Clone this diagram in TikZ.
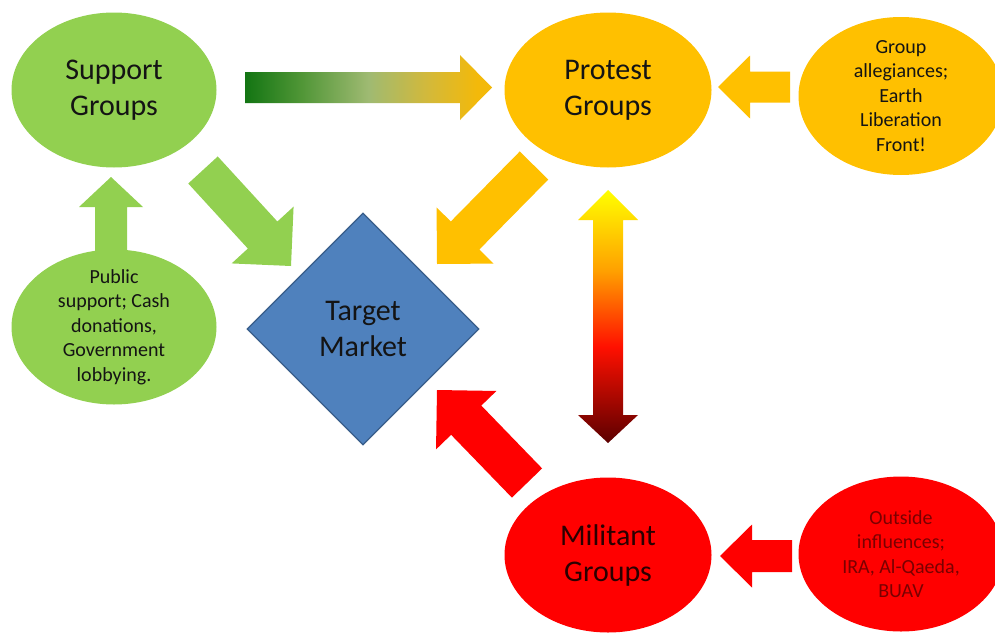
\documentclass[tikz,border=0pt]{standalone}
\usepackage{fontspec}
\setmainfont{Carlito}
\usetikzlibrary{calc,shapes.geometric}

\definecolor{grpgreen}{HTML}{92D050}
\definecolor{grpgold}{HTML}{FFC000}
\definecolor{grpred}{HTML}{FF0000}
\definecolor{mktblue}{HTML}{4F81BD}
\definecolor{mktedge}{HTML}{385D8A}
\definecolor{inkdark}{HTML}{141414}
\definecolor{inkred}{HTML}{7A0000}
\definecolor{inkmil}{HTML}{2A0000}
\definecolor{fadegreen}{HTML}{137513}
\definecolor{fadegreenb}{HTML}{4E9535}
\definecolor{fademid}{HTML}{9FBA72}
\definecolor{fadegoldb}{HTML}{D3B93A}
\definecolor{fadegold}{HTML}{F3B90A}
\definecolor{heatdark}{HTML}{5C0000}
\definecolor{heatred}{HTML}{FF1000}
\definecolor{heatorange}{HTML}{FFA000}
\definecolor{heatyellow}{HTML}{FFFF00}

% dark green (left) through pale green to gold (right)
\pgfdeclarehorizontalshading{greengold}{100bp}{%
  color(0bp)=(fadegreen); color(25bp)=(fadegreen); color(36bp)=(fadegreenb);
  color(50bp)=(fademid); color(62bp)=(fadegoldb); color(72bp)=(fadegold);
  color(100bp)=(fadegold)}

% yellow (top) through orange and red to dark red (bottom)
\pgfdeclareverticalshading{heatfade}{100bp}{%
  color(0bp)=(heatdark); color(25bp)=(heatdark); color(44bp)=(heatred);
  color(59bp)=(heatorange); color(75bp)=(heatyellow); color(100bp)=(heatyellow)}

% block arrow: tail, tip, shaft half width, head half width, head length, style
\newcommand\blockarrow[6]{%
  \coordinate (ba-h) at ($(#2)!#5!(#1)$);
  \path[#6] ($(#1)!#3!90:(#2)$) -- ($(ba-h)!#3!90:(#2)$) -- ($(ba-h)!#4!90:(#2)$)
    -- (#2) -- ($(ba-h)!#4!-90:(#2)$) -- ($(ba-h)!#3!-90:(#2)$)
    -- ($(#1)!#3!-90:(#2)$) -- cycle;}

\tikzset{
  blob/.style={ellipse, inner sep=-25pt, align=center, minimum width=205pt, minimum height=155pt},
  bigtxt/.style={font=\fontsize{30}{36}\selectfont},
  smalltxt/.style={font=\fontsize{20}{24.5}\selectfont},
}

\begin{document}
\begin{tikzpicture}[x=1pt,y=-1pt]
\useasboundingbox (0,0) rectangle (995,632);
\clip (0,0) rectangle (995,632);
\fill[white] (0,0) rectangle (995,632);

% arrow end points
\coordinate (sp-tail) at (245,87.5);   \coordinate (sp-tip) at (492,87.5);
\coordinate (sm-tail) at (203,170);    \coordinate (sm-tip) at (291,266);
\coordinate (ps-tail) at (111,262);    \coordinate (ps-tip) at (111,177);
\coordinate (pm-tail) at (534,165.5);  \coordinate (pm-tip) at (437,264);
\coordinate (ga-tail) at (790,87);     \coordinate (ga-tip) at (718,87);
\coordinate (mm-tail) at (527,483);    \coordinate (mm-tip) at (437,390);
\coordinate (oi-tail) at (792,556);    \coordinate (oi-tip) at (720,556);
\coordinate (pg-end) at (608,190);     \coordinate (mg-end) at (608,443);

% arrows
\blockarrow{sp-tail}{sp-tip}{15.5pt}{32.5pt}{32pt}{shading=greengold}
\blockarrow{sm-tail}{sm-tip}{20pt}{42pt}{42pt}{fill=grpgreen}
\blockarrow{ps-tail}{ps-tip}{16pt}{32pt}{30pt}{fill=grpgreen}
\blockarrow{pm-tail}{pm-tip}{20pt}{40pt}{40pt}{fill=grpgold}
\blockarrow{ga-tail}{ga-tip}{15.5pt}{31.5pt}{32pt}{fill=grpgold}
\blockarrow{mm-tail}{mm-tip}{21pt}{42pt}{42pt}{fill=grpred}
\blockarrow{oi-tail}{oi-tip}{16pt}{31.5pt}{32pt}{fill=grpred}

% two-headed arrow between protest and militant groups
\path[shading=heatfade] (pg-end) -- ++(30,30) -- ++(-15,0) -- ($(mg-end)+(15,-28)$)
  -- ++(15,0) -- (mg-end) -- ++(-30,-28) -- ++(15,0) -- ($(pg-end)+(-15,30)$)
  -- ++(-15,0) -- cycle;

% groups
\node[blob, fill=grpgreen, bigtxt, text=inkdark] (support) at (114,90) {Support\\Groups};
\node[blob, fill=grpgreen, smalltxt, text=inkdark] (public) at (114,327)
  {Public\\support; Cash\\donations,\\Government\\lobbying.};
\node[blob, fill=grpgold, bigtxt, text=inkdark, minimum width=207pt] (protest) at (608,90) {Protest\\Groups};
\node[blob, fill=grpgold, smalltxt, text=inkdark, minimum height=158pt] (allegiance) at (901,96)
  {Group\\allegiances;\\Earth\\Liberation\\Front!};
\node[blob, fill=grpred, bigtxt, text=inkmil, minimum width=207pt] (militant) at (608,555) {Militant\\Groups};
\node[blob, fill=grpred, smalltxt, text=inkred] (outside) at (901,554)
  {Outside\\influences;\\IRA, Al-Qaeda,\\BUAV};

% target market
\node[diamond, aspect=1, inner sep=0pt, minimum width=232pt, minimum height=232pt,
  fill=mktblue, draw=mktedge, line width=1.2pt, align=center, bigtxt, text=inkdark]
  (market) at (363,329) {Target\\Market};
\end{tikzpicture}
\end{document}
